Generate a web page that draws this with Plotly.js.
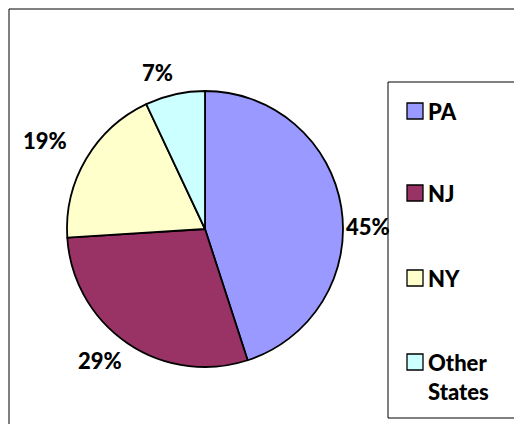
<!DOCTYPE html>
<html>
<head>
<meta charset="utf-8">
<script src="https://cdn.plot.ly/plotly-3.0.1.min.js"></script>
<style>html,body{margin:0;padding:0;background:#fff;}#chart{width:514px;height:424px;}</style>
</head>
<body>
<div id="chart"></div>
<script>
var categories = ["PA", "NJ", "NY", "Other States"];
var legendLabels = ["PA", "NJ", "NY", "Other<br>States"];
var values = [45, 29, 19, 7];
var colors = ["#9999FF", "#993366", "#FFFFCC", "#CCFFFF"];

var W = 514, H = 424;
function px(x){ return x / W; }
function py(y){ return 1 - y / H; }

var fam = "Lato, 'DejaVu Sans', sans-serif";
var font = {family: fam, size: 22, color: "#000", weight: 900};

var cx = 205, cy = 229, r = 138;

var trace = {
  type: "pie",
  labels: categories,
  values: values,
  sort: false,
  direction: "clockwise",
  rotation: 0,
  marker: {colors: colors, line: {color: "#000", width: 1.8}},
  textinfo: "none",
  textposition: "none",
  domain: {x: [px(cx - r), px(cx + r)], y: [py(cy + r), py(cy - r)]},
  showlegend: false,
  hoverinfo: "label+percent"
};

var shapes = [
  {type: "rect", xref: "paper", yref: "paper", x0: px(9), y0: py(9), x1: px(540), y1: py(450), line: {color: "#000", width: 1}, fillcolor: "rgba(0,0,0,0)"},
  {type: "rect", xref: "paper", yref: "paper", x0: px(388), y0: py(82), x1: px(540), y1: py(418), line: {color: "#000", width: 1}, fillcolor: "rgba(0,0,0,0)"}
];
var annotations = [];

// percent labels placed outside each slice at its mid-angle
var total = values.reduce(function(a, b){ return a + b; }, 0);
var labelR = r + 30;
var labelNudge = [[-3, 24], [-11, -7], [-15, -3], [-11, 7]];
var cum = 0;
for (var k = 0; k < values.length; k++) {
  var mid = (cum + values[k] / 2) / total * 2 * Math.PI;
  cum += values[k];
  var lx = cx + labelR * Math.sin(mid) + labelNudge[k][0];
  var ly = cy - labelR * Math.cos(mid) + labelNudge[k][1];
  annotations.push({xref: "paper", yref: "paper", x: px(lx), y: py(ly),
    xanchor: "center", yanchor: "middle", showarrow: false,
    text: Math.round(values[k] / total * 100) + "%", font: font});
}

var legendY = [111, 193, 278, 362];
for (var i = 0; i < categories.length; i++) {
  shapes.push({type: "rect", xref: "paper", yref: "paper",
    x0: px(407), x1: px(423), y0: py(legendY[i] - 8), y1: py(legendY[i] + 8),
    fillcolor: colors[i], line: {color: "#000", width: 1.3}});
  annotations.push({xref: "paper", yref: "paper", x: px(426), y: py(legendY[i] - 15),
    xanchor: "left", yanchor: "top", align: "left", showarrow: false,
    text: legendLabels[i], font: font});
}

var layout = {
  width: W, height: H,
  margin: {l: 0, r: 0, t: 0, b: 0},
  paper_bgcolor: "#fff",
  showlegend: false,
  shapes: shapes,
  annotations: annotations,
  font: font
};

Plotly.newPlot("chart", [trace], layout, {displayModeBar: false, staticPlot: true});
</script>
</body>
</html>
